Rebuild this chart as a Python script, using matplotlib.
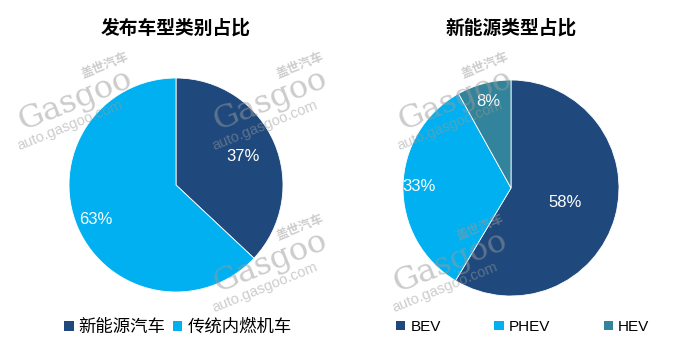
import matplotlib
matplotlib.use("Agg")
import matplotlib.pyplot as plt
import numpy as np
from matplotlib.patches import Patch

plt.rcParams['font.family'] = ['Liberation Sans', 'Noto Sans CJK SC', 'DejaVu Sans']

# Data
left_title = "发布车型类别占比"
left_categories = ["新能源汽车", "传统内燃机车"]
left_values = [37, 63]

right_title = "新能源类型占比"
right_categories = ["BEV", "PHEV", "HEV"]
right_values = [58, 33, 8]

NAVY = "#1F497D"
LIGHT = "#00B0F0"
TEAL = "#31849B"

W, H = 699, 360
fig = plt.figure(figsize=(W / 100, H / 100), dpi=100)
fig.patch.set_facecolor("white")


def pie_axes(cx, cy, r):
    return fig.add_axes([(cx - r) / W, (H - cy - r) / H, 2 * r / W, 2 * r / H])


def draw_pie(ax, values, colors, label_r):
    wedges, _ = ax.pie(values, colors=colors, startangle=90, counterclock=False,
                       radius=1.0, wedgeprops=dict(linewidth=0.6, edgecolor="white"))
    for w, v, lr in zip(wedges, values, label_r):
        ang = np.deg2rad((w.theta1 + w.theta2) / 2)
        ax.text(lr * np.cos(ang), lr * np.sin(ang), f"{v}%", color="white",
                fontsize=12, ha="center", va="center")
    ax.set_xlim(-1, 1)
    ax.set_ylim(-1, 1)
    ax.set_aspect("equal")
    ax.axis("off")


axL = pie_axes(176, 185, 107)
draw_pie(axL, left_values, [NAVY, LIGHT], [0.68, 0.82])
axR = pie_axes(511, 188, 108)
draw_pie(axR, right_values, [NAVY, LIGHT, TEAL], [0.52, 0.85, 0.83])

# Titles
fig.text(176 / W, 1 - 28 / H, left_title, ha="center", va="center",
         fontsize=13.5, fontweight="bold", family=["Noto Sans CJK SC"])
fig.text(511 / W, 1 - 28 / H, right_title, ha="center", va="center",
         fontsize=13.5, fontweight="bold", family=["Noto Sans CJK SC"])

# Legends
hL = [Patch(facecolor=c, edgecolor="none") for c in [NAVY, LIGHT]]
legL = fig.legend(hL, left_categories, loc="center left",
                  bbox_to_anchor=(64 / W, 1 - 327 / H), ncol=2, frameon=False,
                  handlelength=0.55, handleheight=0.55, handletextpad=0.3,
                  columnspacing=0.4, borderpad=0, borderaxespad=0,
                  prop={"family": ["Noto Sans CJK SC"], "size": 12.5})
hR = [Patch(facecolor=c, edgecolor="none") for c in [NAVY, LIGHT, TEAL]]
legR = fig.legend(hR, right_categories, loc="center left",
                  bbox_to_anchor=(396 / W, 1 - 327 / H), ncol=3, frameon=False,
                  handlelength=0.6, handleheight=0.6, handletextpad=0.35,
                  columnspacing=3.5, borderpad=0, borderaxespad=0,
                  prop={"family": ["Liberation Sans"], "size": 11})

# Watermarks
def watermark(x, y):
    kw = dict(rotation=22, color="#9a9a9a", alpha=0.5, ha="center", va="center",
              rotation_mode="anchor", zorder=10)
    fig.text((x + 30) / W, 1 - (y - 35) / H, "盖世汽车", fontsize=9, fontweight="bold",
             family=["Noto Sans CJK SC"], **kw)
    fig.text(x / W, 1 - y / H, "Gasgoo", fontsize=23, family=["DejaVu Serif"], **kw)
    fig.text((x - 5) / W, 1 - (y + 25) / H, "auto.gasgoo.com", fontsize=10.5,
             family=["Liberation Sans"], **kw)


for (x, y) in [(75, 100), (270, 100), (270, 262), (455, 100), (450, 262)]:
    watermark(x, y)

fig.savefig("out.png", dpi=100, facecolor="white")
